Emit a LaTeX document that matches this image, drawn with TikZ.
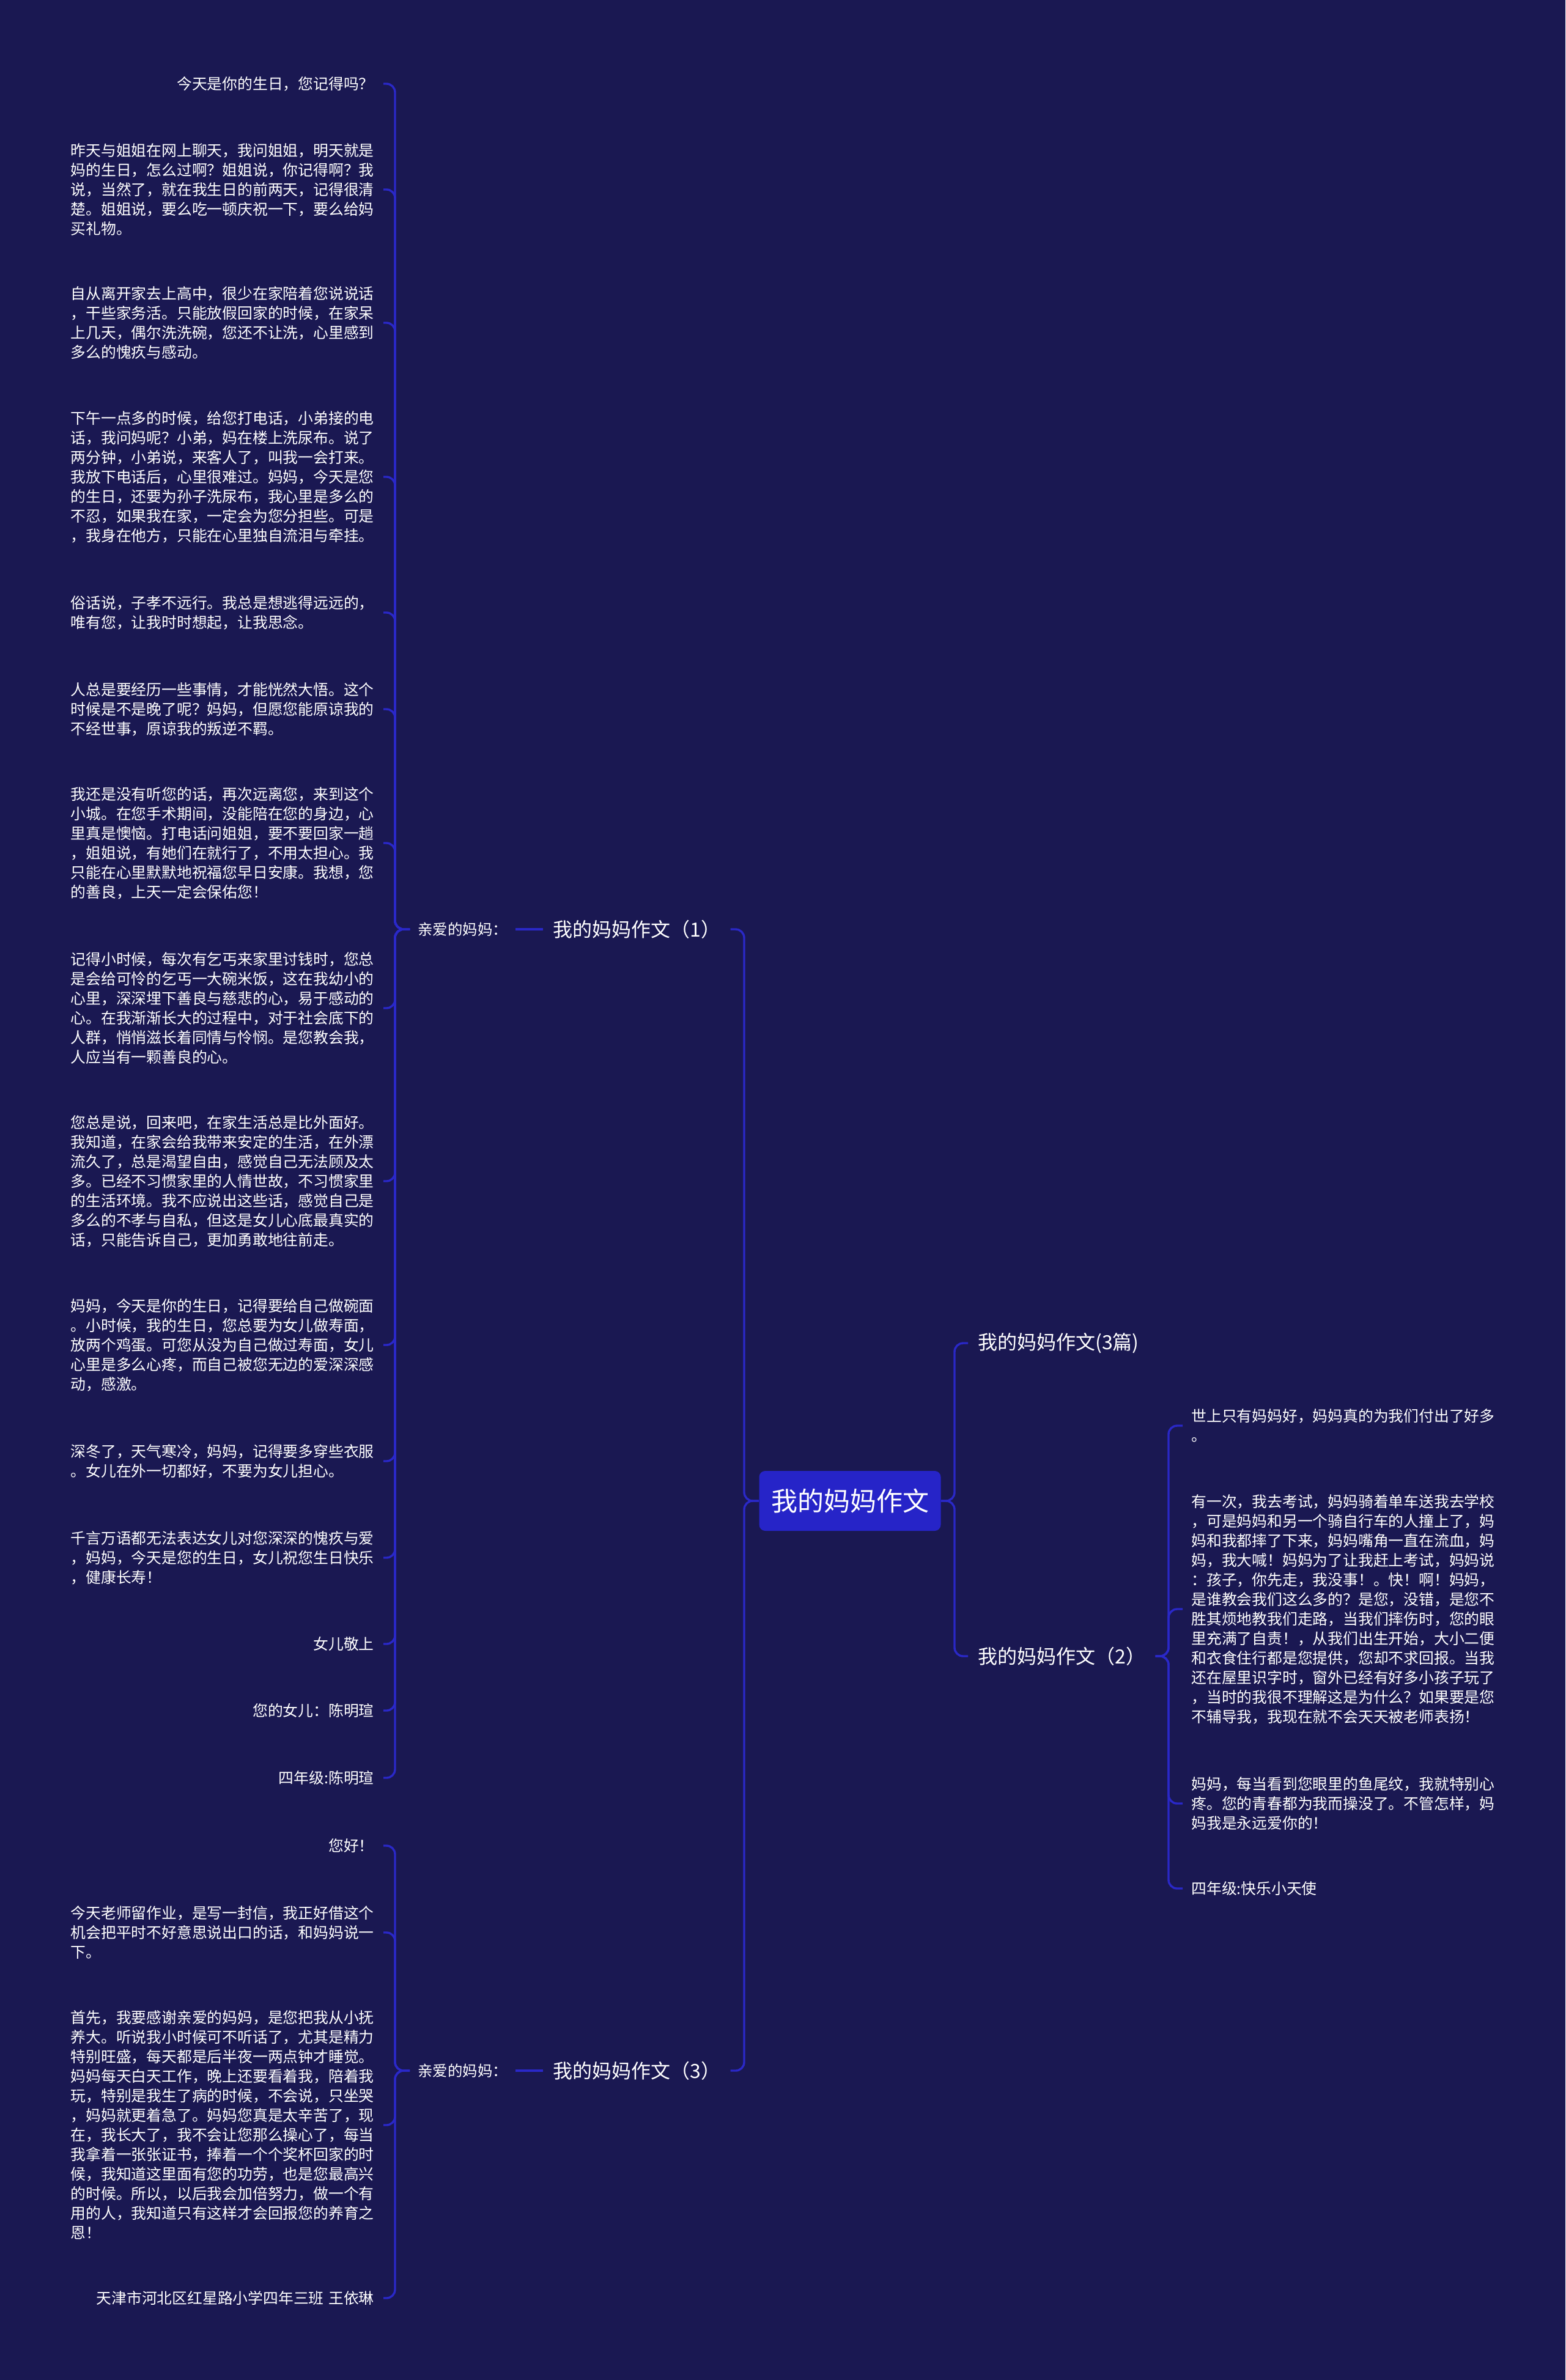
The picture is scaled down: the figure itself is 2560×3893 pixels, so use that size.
\documentclass[tikz,border=0pt]{standalone}
\usepackage{fontspec}
\setmainfont{Noto Sans CJK SC}
\usetikzlibrary{calc}
\definecolor{bgc}{RGB}{26,24,82}
\definecolor{lnc}{RGB}{42,40,200}
\definecolor{rootc}{RGB}{38,36,200}
\tikzset{
  body/.style={text=white, font=\fontsize{12.4pt}{16pt}\selectfont, inner sep=0pt, align=left},
  lbody/.style={body, anchor=east},
  lone/.style={text=white, font=\fontsize{12.4pt}{16pt}\selectfont, inner sep=0pt, anchor=east},
  rbody/.style={body, anchor=west},
  titlen/.style={text=white, font=\fontsize{16pt}{19pt}\selectfont, inner sep=0pt, anchor=west},
  subn/.style={text=white, font=\fontsize{12.2pt}{15pt}\selectfont, inner sep=0pt, anchor=west},
  rootn/.style={fill=rootc, rounded corners=5pt, text=white, font=\fontsize{21.5pt}{25pt}\selectfont,
    minimum width=148.5pt, minimum height=49pt, inner sep=0pt},
  conn/.style={draw=lnc, line width=1.7pt, rounded corners=7pt}
}
\begin{document}
\begin{tikzpicture}[x=0.5pt,y=-0.5pt]
\fill[bgc] (0,0) rectangle (2560,3893);
\useasboundingbox (0,0) rectangle (2560,3893);

% bracket x positions
\coordinate (bRL) at (1217,0);
\coordinate (bRR) at (1561,0);
\coordinate (bP) at (646,0);
\coordinate (bT2) at (1911,0);

% root
\node[rootn] (root) at (1390,2455) {我的妈妈作文};

% titles
\node[titlen] (T1) at (904,1520) {我的妈妈作文（1）};
\node[titlen] (T3) at (904,3387) {我的妈妈作文（3）};
\node[titlen] (T0) at (1599,2197) {我的妈妈作文(3篇)};
\node[titlen] (T2) at (1599,2709) {我的妈妈作文（2）};

\node[subn] (P1) at (683,1520) {亲爱的妈妈：};
\node[subn] (P3) at (683,3387) {亲爱的妈妈：};

% left children of P1
\node[lone] (L1) at (612,137) {今天是你的生日，您记得吗？};
\node[lbody] (L2) at (612,310) {昨天与姐姐在网上聊天，我问姐姐，明天就是\\妈的生日，怎么过啊？姐姐说，你记得啊？我\\说，当然了，就在我生日的前两天，记得很清\\楚。姐姐说，要么吃一顿庆祝一下，要么给妈\\买礼物。};
\node[lbody] (L3) at (612,528) {自从离开家去上高中，很少在家陪着您说说话\\，干些家务活。只能放假回家的时候，在家呆\\上几天，偶尔洗洗碗，您还不让洗，心里感到\\多么的愧疚与感动。};
\node[lbody] (L4) at (612,780) {下午一点多的时候，给您打电话，小弟接的电\\话，我问妈呢？小弟，妈在楼上洗尿布。说了\\两分钟，小弟说，来客人了，叫我一会打来。\\我放下电话后，心里很难过。妈妈，今天是您\\的生日，还要为孙子洗尿布，我心里是多么的\\不忍，如果我在家，一定会为您分担些。可是\\，我身在他方，只能在心里独自流泪与牵挂。};
\node[lbody] (L5) at (612,1002) {俗话说，子孝不远行。我总是想逃得远远的，\\唯有您，让我时时想起，让我思念。};
\node[lbody] (L6) at (612,1160) {人总是要经历一些事情，才能恍然大悟。这个\\时候是不是晚了呢？妈妈，但愿您能原谅我的\\不经世事，原谅我的叛逆不羁。};
\node[lbody] (L7) at (612,1379) {我还是没有听您的话，再次远离您，来到这个\\小城。在您手术期间，没能陪在您的身边，心\\里真是懊恼。打电话问姐姐，要不要回家一趟\\，姐姐说，有她们在就行了，不用太担心。我\\只能在心里默默地祝福您早日安康。我想，您\\的善良，上天一定会保佑您！};
\node[lbody] (L8) at (612,1649) {记得小时候，每次有乞丐来家里讨钱时，您总\\是会给可怜的乞丐一大碗米饭，这在我幼小的\\心里，深深埋下善良与慈悲的心，易于感动的\\心。在我渐渐长大的过程中，对于社会底下的\\人群，悄悄滋长着同情与怜悯。是您教会我，\\人应当有一颗善良的心。};
\node[lbody] (L9) at (612,1932) {您总是说，回来吧，在家生活总是比外面好。\\我知道，在家会给我带来安定的生活，在外漂\\流久了，总是渴望自由，感觉自己无法顾及太\\多。已经不习惯家里的人情世故，不习惯家里\\的生活环境。我不应说出这些话，感觉自己是\\多么的不孝与自私，但这是女儿心底最真实的\\话，只能告诉自己，更加勇敢地往前走。};
\node[lbody] (L10) at (612,2200) {妈妈，今天是你的生日，记得要给自己做碗面\\。小时候，我的生日，您总要为女儿做寿面，\\放两个鸡蛋。可您从没为自己做过寿面，女儿\\心里是多么心疼，而自己被您无边的爱深深感\\动，感激。};
\node[lbody] (L11) at (612,2390) {深冬了，天气寒冷，妈妈，记得要多穿些衣服\\。女儿在外一切都好，不要为女儿担心。};
\node[lbody] (L12) at (612,2548) {千言万语都无法表达女儿对您深深的愧疚与爱\\，妈妈，今天是您的生日，女儿祝您生日快乐\\，健康长寿！};
\node[lone] (L13) at (612,2689) {女儿敬上};
\node[lone] (L14) at (612,2798) {您的女儿：陈明瑄};
\node[lone] (L15) at (612,2908) {四年级:陈明瑄};

% left children of P3
\node[lone] (M1) at (612,3019) {您好！};
\node[lbody] (M2) at (612,3161) {今天老师留作业，是写一封信，我正好借这个\\机会把平时不好意思说出口的话，和妈妈说一\\下。};
\node[lbody] (M3) at (612,3476) {首先，我要感谢亲爱的妈妈，是您把我从小抚\\养大。听说我小时候可不听话了，尤其是精力\\特别旺盛，每天都是后半夜一两点钟才睡觉。\\妈妈每天白天工作，晚上还要看着我，陪着我\\玩，特别是我生了病的时候，不会说，只坐哭\\，妈妈就更着急了。妈妈您真是太辛苦了，现\\在，我长大了，我不会让您那么操心了，每当\\我拿着一张张证书，捧着一个个奖杯回家的时\\候，我知道这里面有您的功劳，也是您最高兴\\的时候。所以，以后我会加倍努力，做一个有\\用的人，我知道只有这样才会回报您的养育之\\恩！};
\node[lone] (M4) at (612,3759) {天津市河北区红星路小学四年三班\hspace{0.3em}王依琳};

% right children of T2
\node[rbody] (R1) at (1948,2332) {世上只有妈妈好，妈妈真的为我们付出了好多\\。};
\node[rbody] (R2) at (1948,2632) {有一次，我去考试，妈妈骑着单车送我去学校\\，可是妈妈和另一个骑自行车的人撞上了，妈\\妈和我都摔了下来，妈妈嘴角一直在流血，妈\\妈，我大喊！妈妈为了让我赶上考试，妈妈说\\：孩子，你先走，我没事！。快！啊！妈妈，\\是谁教会我们这么多的？是您，没错，是您不\\胜其烦地教我们走路，当我们摔伤时，您的眼\\里充满了自责！，从我们出生开始，大小二便\\和衣食住行都是您提供，您却不求回报。当我\\还在屋里识字时，窗外已经有好多小孩子玩了\\，当时的我很不理解这是为什么？如果要是您\\不辅导我，我现在就不会天天被老师表扬！};
\node[rbody] (R3) at (1948,2950) {妈妈，每当看到您眼里的鱼尾纹，我就特别心\\疼。您的青春都为我而操没了。不管怎样，妈\\妈我是永远爱你的！};
\node[rbody] (R4) at (1948,3089) {四年级:快乐小天使};

% connectors: root to titles
\foreach \c in {T1,T3}
  \draw[conn] (root.west) -- (root.west -| bRL) -- (\c.east -| bRL) -- ($(\c.east)+(16,0)$);
\foreach \c in {T0,T2}
  \draw[conn] (root.east) -- (root.east -| bRR) -- (\c.west -| bRR) -- ($(\c.west)+(-16,0)$);

% titles to sub-labels
\draw[conn] ($(T1.west)+(-16,0)$) -- ($(P1.east)+(13,0)$);
\draw[conn] ($(T3.west)+(-16,0)$) -- ($(P3.east)+(13,0)$);

% P1 bracket
\foreach \c in {L1,L2,L3,L4,L5,L6,L7,L8,L9,L10,L11,L12,L13,L14,L15}
  \draw[conn] ($(P1.west)+(-13,0)$) -- (P1.west -| bP) -- (\c.east -| bP) -- ($(\c.east)+(15,0)$);
% P3 bracket
\foreach \c in {M1,M2,M3,M4}
  \draw[conn] ($(P3.west)+(-13,0)$) -- (P3.west -| bP) -- (\c.east -| bP) -- ($(\c.east)+(15,0)$);
% T2 bracket
\foreach \c in {R1,R2,R3,R4}
  \draw[conn] ($(T2.east)+(16,0)$) -- (T2.east -| bT2) -- (\c.west -| bT2) -- ($(\c.west)+(-14,0)$);
\end{tikzpicture}
\end{document}
